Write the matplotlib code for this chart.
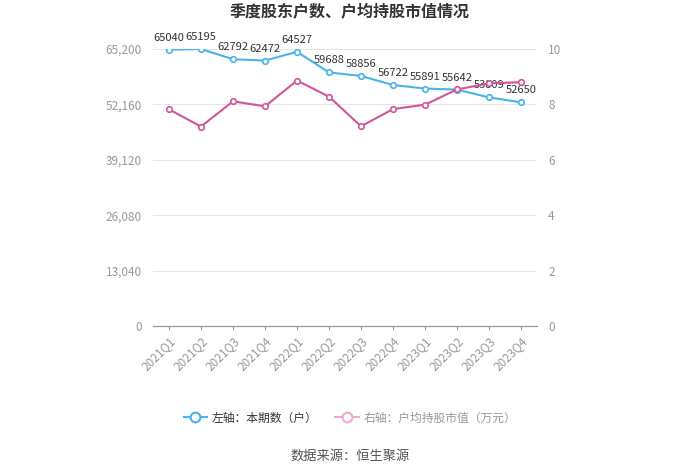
import matplotlib.pyplot as plt
from matplotlib import font_manager
import numpy as np

plt.rcParams['font.family'] = ['Noto Sans CJK SC', 'DejaVu Sans']

quarters = ['2021Q1', '2021Q2', '2021Q3', '2021Q4', '2022Q1', '2022Q2',
            '2022Q3', '2022Q4', '2023Q1', '2023Q2', '2023Q3', '2023Q4']
holders = [65040, 65195, 62792, 62472, 64527, 59688, 58856, 56722, 55891, 55642, 53809, 52650]
avg_value = [7.82, 7.20, 8.11, 7.93, 8.86, 8.28, 7.21, 7.83, 7.99, 8.54, 8.76, 8.80]
left_ticks = [0, 13040, 26080, 39120, 52160, 65200]
right_ticks = [0, 2, 4, 6, 8, 10]

blue = '#4ab4e8'
pink = '#d2559c'
grey = '#999999'

# narrower face for the value labels if there is one
names = {f.name for f in font_manager.fontManager.ttflist}
label_font = 'Liberation Sans Narrow' if 'Liberation Sans Narrow' in names else 'Noto Sans CJK SC'
label_size = 9.5 if label_font == 'Liberation Sans Narrow' else 8

fig = plt.figure(figsize=(7, 4.73), dpi=100)
ax = fig.add_axes([153 / 700, 1 - 326 / 473, 384 / 700, 277 / 473])
ax2 = ax.twinx()

x = np.arange(len(quarters))
ax.plot(x, holders, color=blue, lw=1.5, marker='o', ms=4, mfc='white', mew=1.2, zorder=3)
for xi, v in zip(x, holders):
    ax.annotate(str(v), (xi, v), xytext=(0, 5), textcoords='offset points',
                ha='center', va='bottom', fontsize=label_size, color='#333333',
                family=label_font)
ax2.plot(x, avg_value, color=pink, lw=1.5, marker='o', ms=4, mfc='white', mew=1.2, zorder=3)

ax.set_xlim(-0.5, len(quarters) - 0.5)
ax.set_ylim(0, 65200)
ax2.set_ylim(0, 10)
ax.set_yticks(left_ticks)
ax.set_yticklabels([f'{t:,}' for t in left_ticks])
ax2.set_yticks(right_ticks)
ax.grid(axis='y', color='#e6e6e6', lw=0.8)
ax.set_axisbelow(True)

ax.set_xticks(x)
ax.set_xticklabels(quarters, rotation=45, ha='right', va='top',
                   rotation_mode='anchor', fontsize=8.5, color=grey)
ax.tick_params(axis='x', length=3, color=grey, pad=3)

ax.tick_params(axis='y', length=0, labelsize=8.5, labelcolor=grey, pad=8)
ax2.tick_params(axis='y', length=0, labelsize=8.5, labelcolor=grey, pad=8)
for a in (ax, ax2):
    for s in ('top', 'left', 'right'):
        a.spines[s].set_visible(False)
    a.spines['bottom'].set_color(grey)

fig.text(0.5, 1 - 12 / 473, '季度股东户数、户均持股市值情况', ha='center', va='center',
         fontsize=11.5, fontweight='bold', color='#333333')

h1, = ax.plot([], [], color=blue, lw=1.5, marker='o', ms=7, mfc='white', mew=1.5)
h2, = ax.plot([], [], color='#eeaacf', lw=1.5, marker='o', ms=7, mfc='white', mew=1.5)
leg = fig.legend([h1, h2], ['左轴：本期数（户）', '右轴：户均持股市值（万元）'],
                 loc='center', bbox_to_anchor=(0.5, 1 - 418 / 473), ncol=2, frameon=False,
                 fontsize=8.5, handlelength=2, columnspacing=1.5, handletextpad=0.4)
leg.get_texts()[0].set_color('#333333')
leg.get_texts()[1].set_color(grey)

fig.text(0.5, 1 - 456 / 473, '数据来源：恒生聚源', ha='center', va='center',
         fontsize=9.5, color='#555555')

fig.savefig('out.png', dpi=100, facecolor='white')
